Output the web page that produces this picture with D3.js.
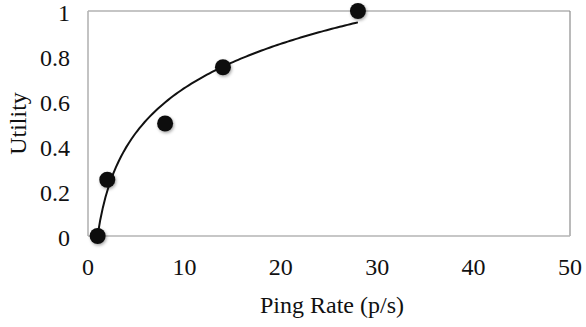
<!DOCTYPE html>
<html>
<head>
<meta charset="utf-8">
<script src="https://cdn.jsdelivr.net/npm/d3@7"></script>
<style>
  body { margin: 0; background: #fff; }
  svg text { font-family: "Liberation Serif", "Times New Roman", serif; fill: #111; }
</style>
</head>
<body>
<svg width="586" height="327"></svg>
<script>
// data
const pingRates = [1, 2, 8, 14, 28];
const utilities = [0, 0.25, 0.5, 0.75, 1];
const xTicks = [0, 10, 20, 30, 40, 50];
const yTicks = [0, 0.2, 0.4, 0.6, 0.8, 1];

const svg = d3.select('svg');

// plot area
const plotLeft = 88, plotRight = 570, plotTop = 11, plotBottom = 236;

const x = d3.scaleLinear().domain([0, 50]).range([plotLeft, plotRight]);
const y = d3.scaleLinear().domain([0, 1]).range([plotBottom, plotTop]);

// drop shadow for the markers
const defs = svg.append('defs');
const f = defs.append('filter').attr('id', 'shadow')
  .attr('x', '-50%').attr('y', '-50%').attr('width', '200%').attr('height', '200%');
f.append('feDropShadow')
  .attr('dx', 1).attr('dy', 1.5).attr('stdDeviation', 1.5)
  .attr('flood-color', '#000').attr('flood-opacity', 0.35);

// frame: light left/bottom axes, darker top/right border
svg.append('line').attr('x1', plotLeft).attr('x2', plotRight).attr('y1', plotTop).attr('y2', plotTop)
  .attr('stroke', '#8c8c8c').attr('stroke-width', 1.2);
svg.append('line').attr('x1', plotRight).attr('x2', plotRight).attr('y1', plotTop).attr('y2', plotBottom)
  .attr('stroke', '#8c8c8c').attr('stroke-width', 1.2);
svg.append('line').attr('x1', plotLeft).attr('x2', plotLeft).attr('y1', plotTop).attr('y2', plotBottom)
  .attr('stroke', '#b4b4b4').attr('stroke-width', 1.6);
svg.append('line').attr('x1', plotLeft).attr('x2', plotRight).attr('y1', plotBottom).attr('y2', plotBottom)
  .attr('stroke', '#b4b4b4').attr('stroke-width', 1.6);

// tick labels
svg.append('g').selectAll('text')
  .data(xTicks).enter().append('text')
  .attr('x', d => x(d))
  .attr('y', 275)
  .attr('text-anchor', 'middle')
  .attr('font-size', 24)
  .text(d => d);

svg.append('g').selectAll('text')
  .data(yTicks).enter().append('text')
  .attr('x', 70)
  .attr('y', d => y(d) + 10)
  .attr('text-anchor', 'end')
  .attr('font-size', 24)
  .text(d => d3.format('~g')(d));

// axis titles
svg.append('text')
  .attr('x', (plotLeft + plotRight) / 2 + 3)
  .attr('y', 313)
  .attr('text-anchor', 'middle')
  .attr('font-size', 24)
  .text('Ping Rate (p/s)');

svg.append('text')
  .attr('transform', `translate(26, ${(plotTop + plotBottom) / 2}) rotate(-90)`)
  .attr('text-anchor', 'middle')
  .attr('font-size', 24)
  .text('Utility');

// logarithmic trendline, least squares fit of the points
const lx = pingRates.map(Math.log);
const mx = d3.mean(lx), my = d3.mean(utilities);
const sxy = d3.sum(lx, (v, i) => (v - mx) * (utilities[i] - my));
const sxx = d3.sum(lx, v => (v - mx) * (v - mx));
const a = sxy / sxx, b = my - a * mx;
const xs = d3.range(0, 101).map(i => 1 + i * (28 - 1) / 100);

svg.append('path')
  .datum(xs)
  .attr('fill', 'none')
  .attr('stroke', '#111')
  .attr('stroke-width', 2)
  .attr('d', d3.line().x(d => x(d)).y(d => y(a * Math.log(d) + b)));

// markers
svg.append('g').selectAll('circle')
  .data(pingRates).enter().append('circle')
  .attr('cx', d => x(d))
  .attr('cy', (d, i) => y(utilities[i]))
  .attr('r', 8)
  .attr('fill', '#111')
  .attr('filter', 'url(#shadow)');
</script>
</body>
</html>
